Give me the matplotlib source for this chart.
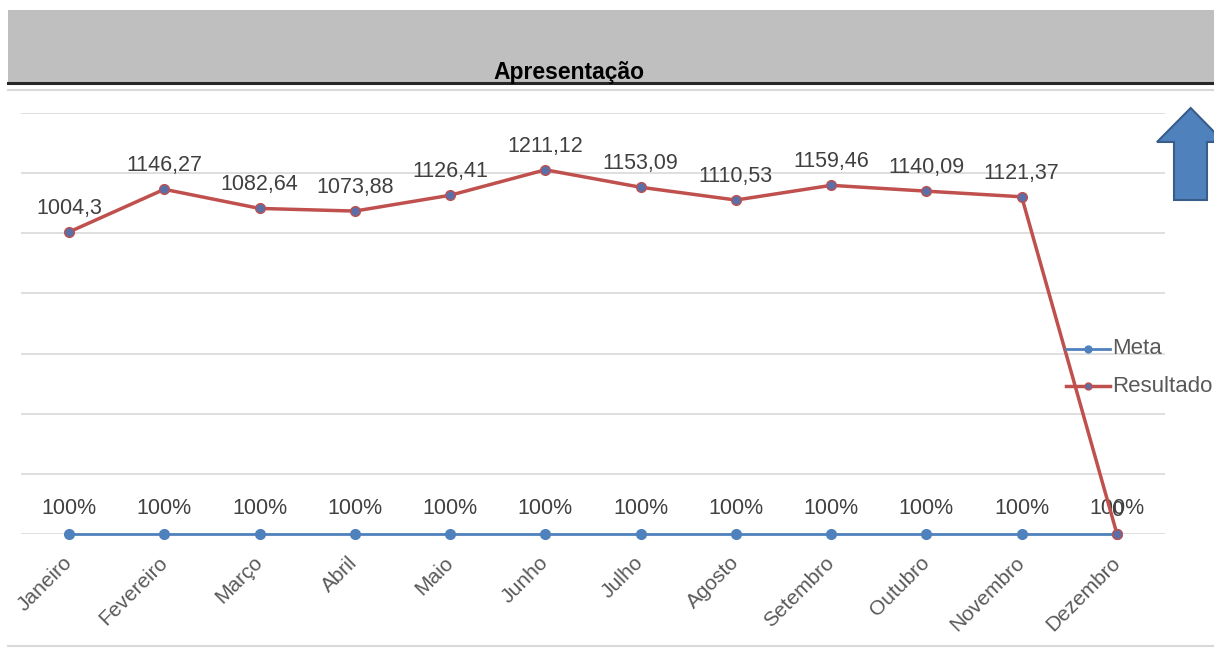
import matplotlib
matplotlib.use("Agg")
import matplotlib.pyplot as plt
from matplotlib.patches import Rectangle, Polygon
from matplotlib.lines import Line2D

months = ["Janeiro", "Fevereiro", "Março", "Abril", "Maio", "Junho", "Julho",
          "Agosto", "Setembro", "Outubro", "Novembro", "Dezembro"]
meta = [1] * 12
meta_labels = ["100%"] * 12
resultado = [1004.3, 1146.27, 1082.64, 1073.88, 1126.41, 1211.12, 1153.09,
             1110.53, 1159.46, 1140.09, 1121.37, 0]
resultado_labels = ["1004,3", "1146,27", "1082,64", "1073,88", "1126,41", "1211,12",
                    "1153,09", "1110,53", "1159,46", "1140,09", "1121,37", "0"]

plt.rcParams['font.family'] = ['Liberation Sans', 'DejaVu Sans']

W, H = 1214, 650
fig = plt.figure(figsize=(W / 100, H / 100), dpi=100)

def fx(x):
    return x / W

def fy(y):
    return (H - y) / H

# header band
fig.patches.append(Rectangle((fx(8), fy(82)), fx(1214 - 8), (82 - 10) / H,
                             transform=fig.transFigure, facecolor="#BFBFBF",
                             edgecolor="none", zorder=0))
fig.add_artist(Line2D([fx(8), 1], [fy(83), fy(83)], transform=fig.transFigure,
                      color="#262626", lw=2.2))
fig.add_artist(Line2D([fx(8), 1], [fy(89.5), fy(89.5)], transform=fig.transFigure,
                      color="#D9D9D9", lw=1.5))
fig.add_artist(Line2D([fx(8), 1], [fy(646), fy(646)], transform=fig.transFigure,
                      color="#D9D9D9", lw=1.5))
fig.text(fx(569), fy(72), "Apresentação", ha="center", va="center",
         fontsize=16.5, fontweight="bold", color="#000000")

left, right = 21.4, 1164.6
top, bottom = 113, 534
ax = fig.add_axes([fx(left), fy(bottom), (right - left) / W, (bottom - top) / H])
x = list(range(len(months)))
ax.set_xlim(-0.5, len(months) - 0.5)
ax.set_ylim(0, 1400)
ax.set_yticks(range(0, 1401, 200))
ax.yaxis.grid(True, color="#D9D9D9", lw=1.2)
ax.set_axisbelow(True)
for s in ax.spines.values():
    s.set_visible(False)
ax.tick_params(axis="y", left=False, labelleft=False)
ax.tick_params(axis="x", bottom=False, pad=15)
ax.set_xticks(x)
ax.set_xticklabels(months, rotation=45, ha="right", va="center",
                   rotation_mode="anchor", fontsize=15, color="#595959")

ax.plot(x, meta, color="#4F81BD", lw=2, marker="o", ms=7,
        markerfacecolor="#4F81BD", markeredgecolor="#4F81BD", label="Meta",
        clip_on=False, zorder=3)
ax.plot(x, resultado, color="#C0504D", lw=2.5, marker="o", ms=7,
        markerfacecolor="#5A6FA8", markeredgecolor="#C0504D", label="Resultado",
        clip_on=False, zorder=4)

for xi, v, t in zip(x, meta, meta_labels):
    ax.annotate(t, (xi, v), xytext=(0, 18.5), textcoords="offset points",
                ha="center", va="center", fontsize=15.5, color="#404040")
for xi, v, t in zip(x, resultado, resultado_labels):
    ax.annotate(t, (xi, v), xytext=(0, 17), textcoords="offset points",
                ha="center", va="center", fontsize=15.5, color="#404040")

# legend
fig.add_artist(Line2D([fx(1066), fx(1110)], [fy(349), fy(349)], transform=fig.transFigure,
                      color="#4F81BD", lw=2, marker="", zorder=5))
fig.add_artist(Line2D([fx(1088)], [fy(349)], transform=fig.transFigure,
                      color="#4F81BD", marker="o", ms=5, zorder=6))
fig.add_artist(Line2D([fx(1066), fx(1110)], [fy(386), fy(386)], transform=fig.transFigure,
                      color="#C0504D", lw=2.5, zorder=5))
fig.add_artist(Line2D([fx(1088)], [fy(386)], transform=fig.transFigure,
                      color="#C0504D", marker="o", ms=5, markerfacecolor="#5A6FA8",
                      zorder=6))
fig.text(fx(1112), fy(349), "Meta", ha="left", va="center", fontsize=16, color="#595959")
fig.text(fx(1112), fy(386), "Resultado", ha="left", va="center", fontsize=16, color="#595959")

# blue up arrow
pts = [(1190.7, 108), (1224, 142), (1207, 142), (1207, 200),
       (1174, 200), (1174, 142), (1157, 142)]
fig.patches.append(Polygon([(fx(a), fy(b)) for a, b in pts], closed=True,
                           transform=fig.transFigure, facecolor="#4F81BD",
                           edgecolor="#385D8A", lw=1.5, zorder=10))

fig.savefig("out.png", dpi=100)
